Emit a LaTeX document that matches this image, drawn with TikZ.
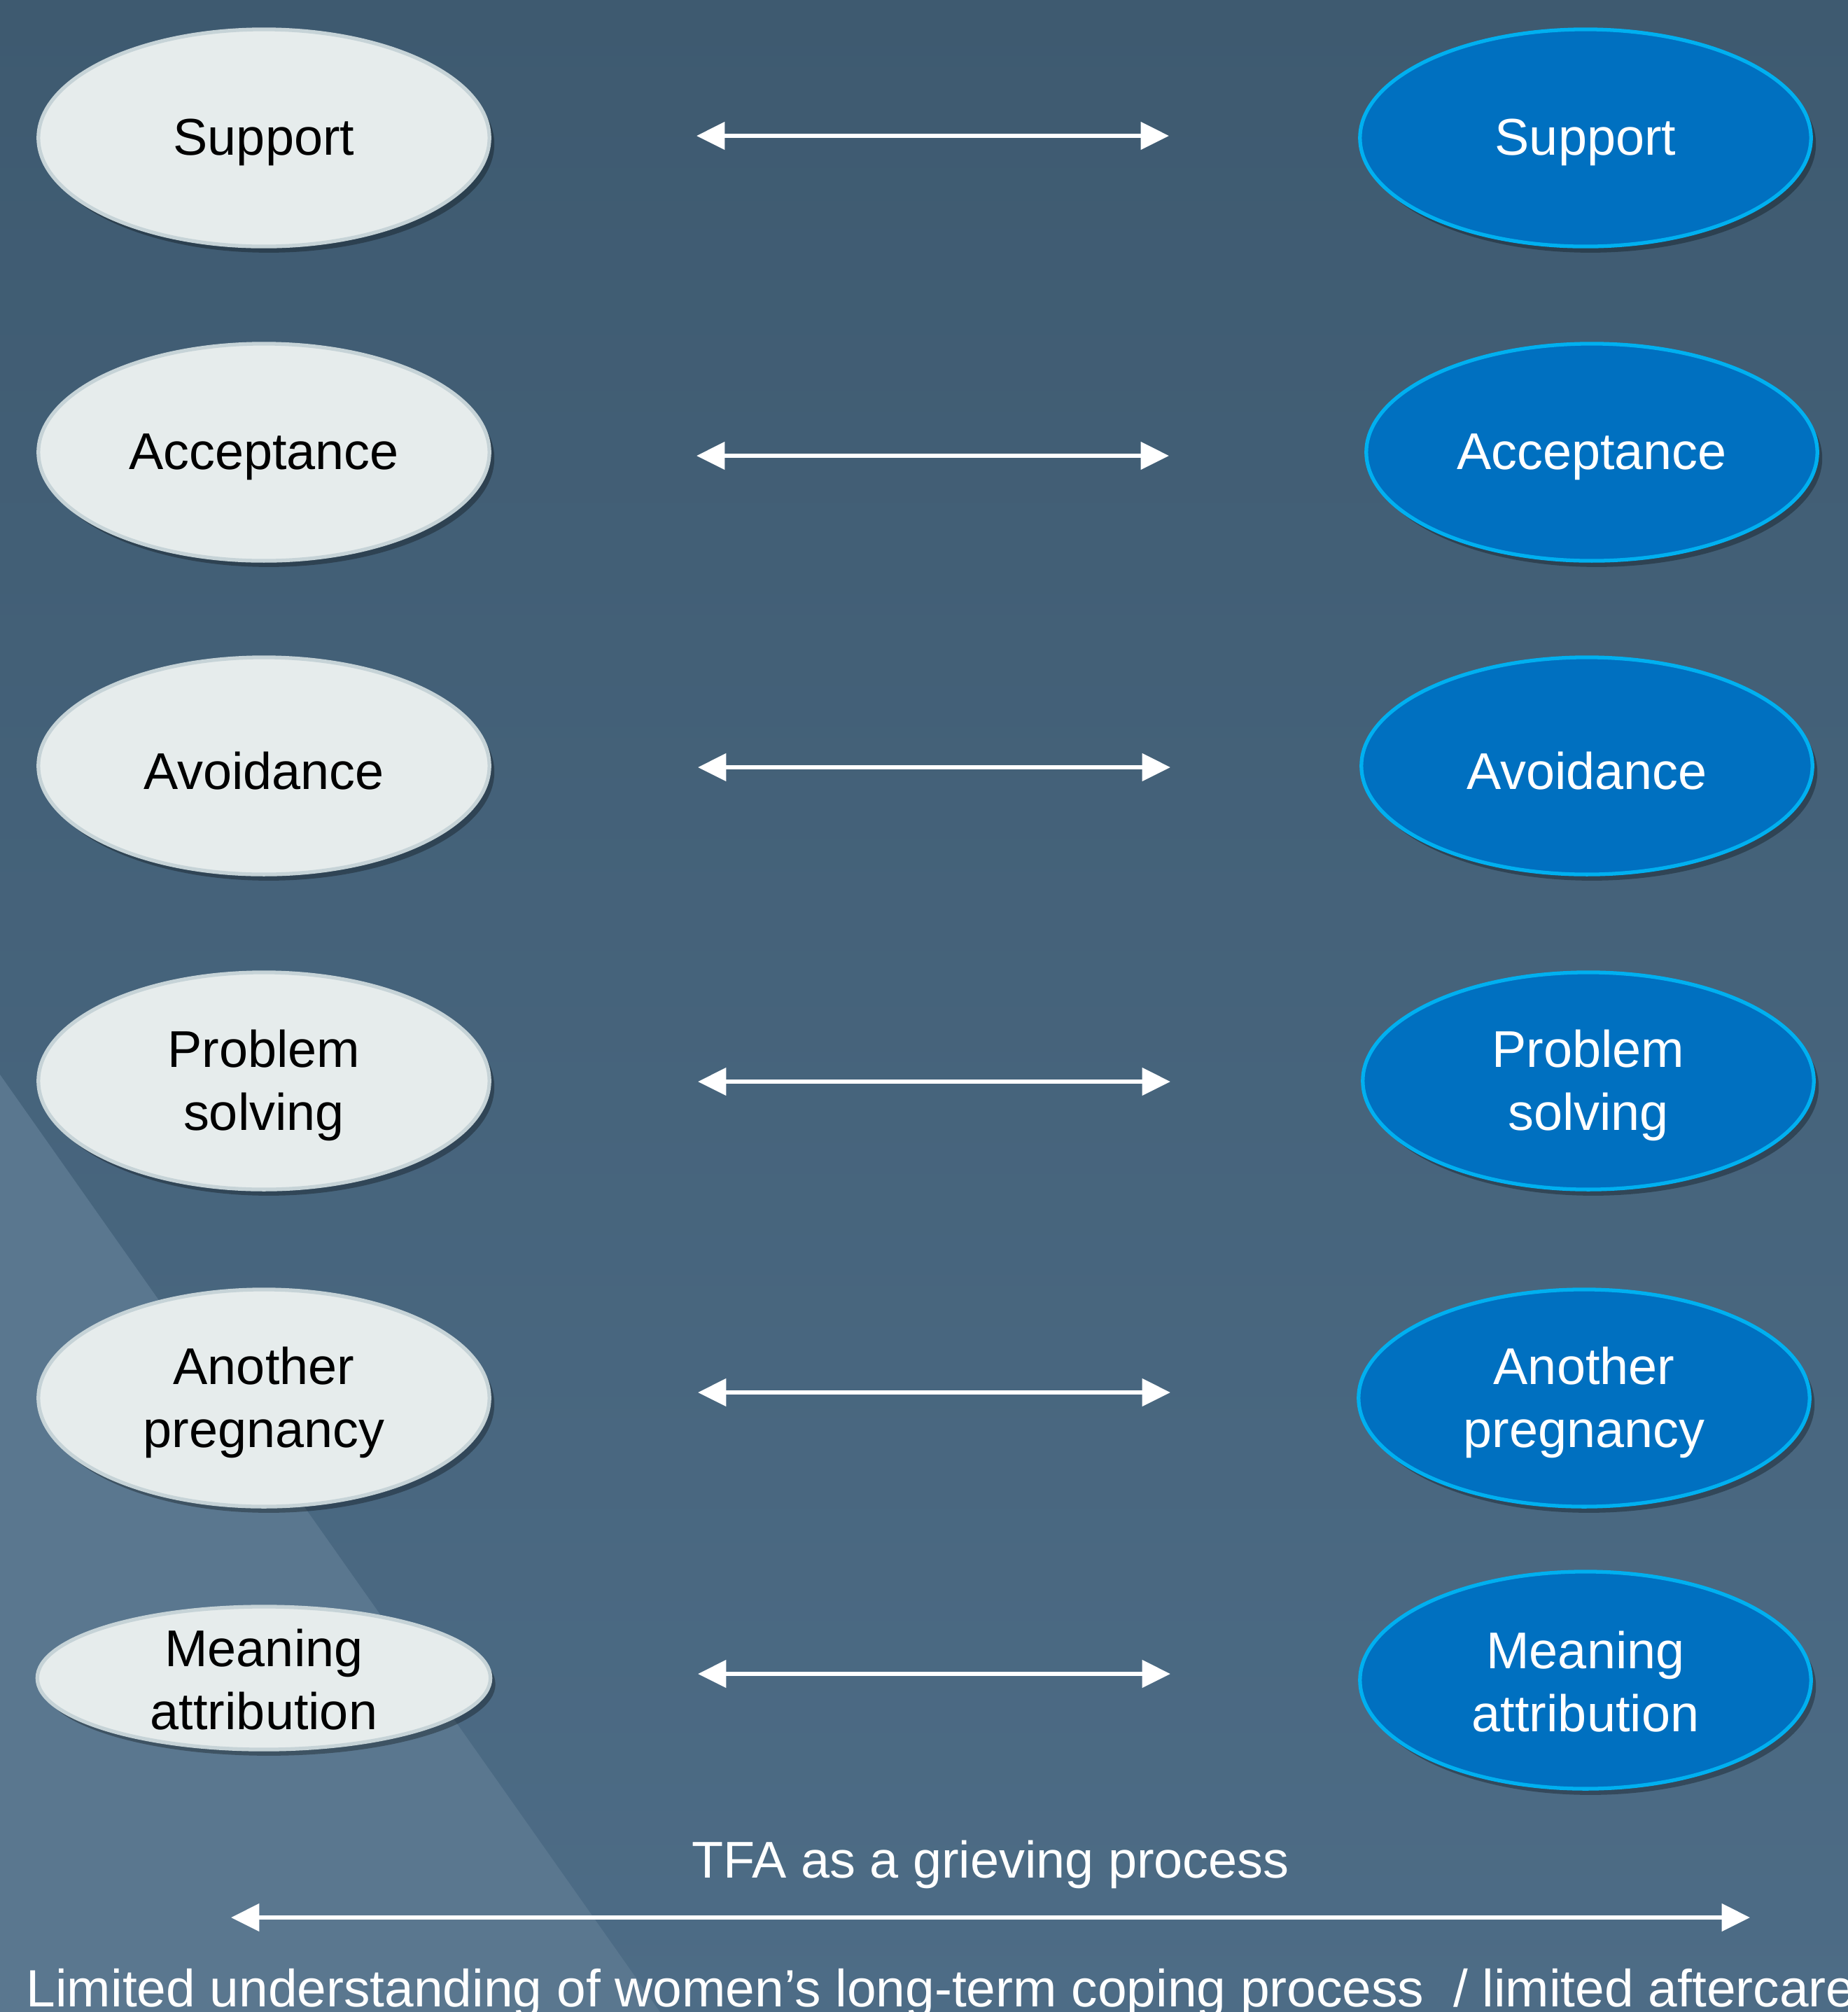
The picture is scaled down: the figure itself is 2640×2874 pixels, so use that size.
\documentclass[tikz,border=0pt]{standalone}
\usepackage{fontspec}
\setmainfont{Liberation Sans}
\usetikzlibrary{shadows,arrows.meta,shapes.geometric}
\definecolor{bgtop}{HTML}{3E5A70}
\definecolor{bgbot}{HTML}{4D6C86}
\definecolor{tri}{HTML}{5A778F}
\definecolor{lfill}{HTML}{E6ECEC}
\definecolor{ldraw}{HTML}{C6D3D7}
\definecolor{rfill}{HTML}{0070C0}
\definecolor{rdraw}{HTML}{00B0F0}
\newcommand{\lw}[1]{\raisebox{-1.9pt}[\height][\depth]{#1}}
\newcommand{\lwm}[1]{\raisebox{-0.5pt}[\height][\depth]{#1}}
\tikzset{
  lell/.style={ellipse, fill=lfill, draw=ldraw, line width=1.5pt, minimum width=6.44cm, minimum height=3.1cm, inner sep=0pt, text=black, align=center, font=\fontsize{21}{25.5}\selectfont, drop shadow={shadow xshift=2pt, shadow yshift=-2.5pt, opacity=0.3, fill=black}},
  rell/.style={lell, fill=rfill, draw=rdraw, text=white},
  dbl/.style={draw=white, line width=1.7pt, {Triangle[length=11.5pt,width=11pt]}-{Triangle[length=11.5pt,width=11pt]}},
  lbl/.style={text=white, font=\fontsize{21}{25.5}\selectfont, inner sep=0pt}
}
\begin{document}
\begin{tikzpicture}[x=0.01cm,y=-0.01cm]
\useasboundingbox (0,0) rectangle (2640,2874);
\shade[top color=bgtop, bottom color=bgbot] (0,0) rectangle (2640,2874);
\fill[tri] (0,1535) -- (943,2874) -- (0,2874) -- cycle;
% left ellipses
\node[lell] (L1) at (377,197) {\lw{Support}};
\node[lell] (L2) at (377,646) {\lw{Acceptance}};
\node[lell] (L3) at (377,1094) {\lw{Avoidance}};
\node[lell] (L4) at (377,1544) {\lw{Problem}\\\lw{solving}};
\node[lell] (L5) at (377,1997) {\lw{Another}\\\lw{pregnancy}};
\node[lell, minimum height=2.04cm, minimum width=6.47cm] (L6) at (377,2397) {\lwm{Meaning}\\\lwm{attribution}};
% right ellipses
\node[rell] (R1) at (2265,197) {\lw{Support}};
\node[rell] (R2) at (2274,646) {\lw{Acceptance}};
\node[rell] (R3) at (2267,1094) {\lw{Avoidance}};
\node[rell] (R4) at (2269,1544) {\lw{Problem}\\\lw{solving}};
\node[rell] (R5) at (2263,1997) {\lw{Another}\\\lw{pregnancy}};
\node[rell] (R6) at (2265,2400) {\lwm{Meaning}\\\lwm{attribution}};
% arrow ends
\coordinate (a1l) at (995,194);  \coordinate (a1r) at (1670,194);
\coordinate (a2l) at (995,651);  \coordinate (a2r) at (1670,651);
\coordinate (a3l) at (997,1096); \coordinate (a3r) at (1672,1096);
\coordinate (a4l) at (997,1545); \coordinate (a4r) at (1672,1545);
\coordinate (a5l) at (997,1989); \coordinate (a5r) at (1672,1989);
\coordinate (a6l) at (997,2391); \coordinate (a6r) at (1672,2391);
\draw[dbl] (a1l) -- (a1r);
\draw[dbl] (a2l) -- (a2r);
\draw[dbl] (a3l) -- (a3r);
\draw[dbl] (a4l) -- (a4r);
\draw[dbl] (a5l) -- (a5r);
\draw[dbl] (a6l) -- (a6r);
% bottom
\node[lbl] (tfa) at (1415,2663) {TFA as a grieving process};
\coordinate (bl) at (330,2739);
\coordinate (br) at (2500,2739);
\draw[dbl] (bl) -- (br);
\node[lbl, anchor=base west, font=\fontsize{21.3}{25.5}\selectfont] (lim) at (37,2866) {Limited understanding of women’s long-term coping process \ / limited aftercare};
\end{tikzpicture}
\end{document}
